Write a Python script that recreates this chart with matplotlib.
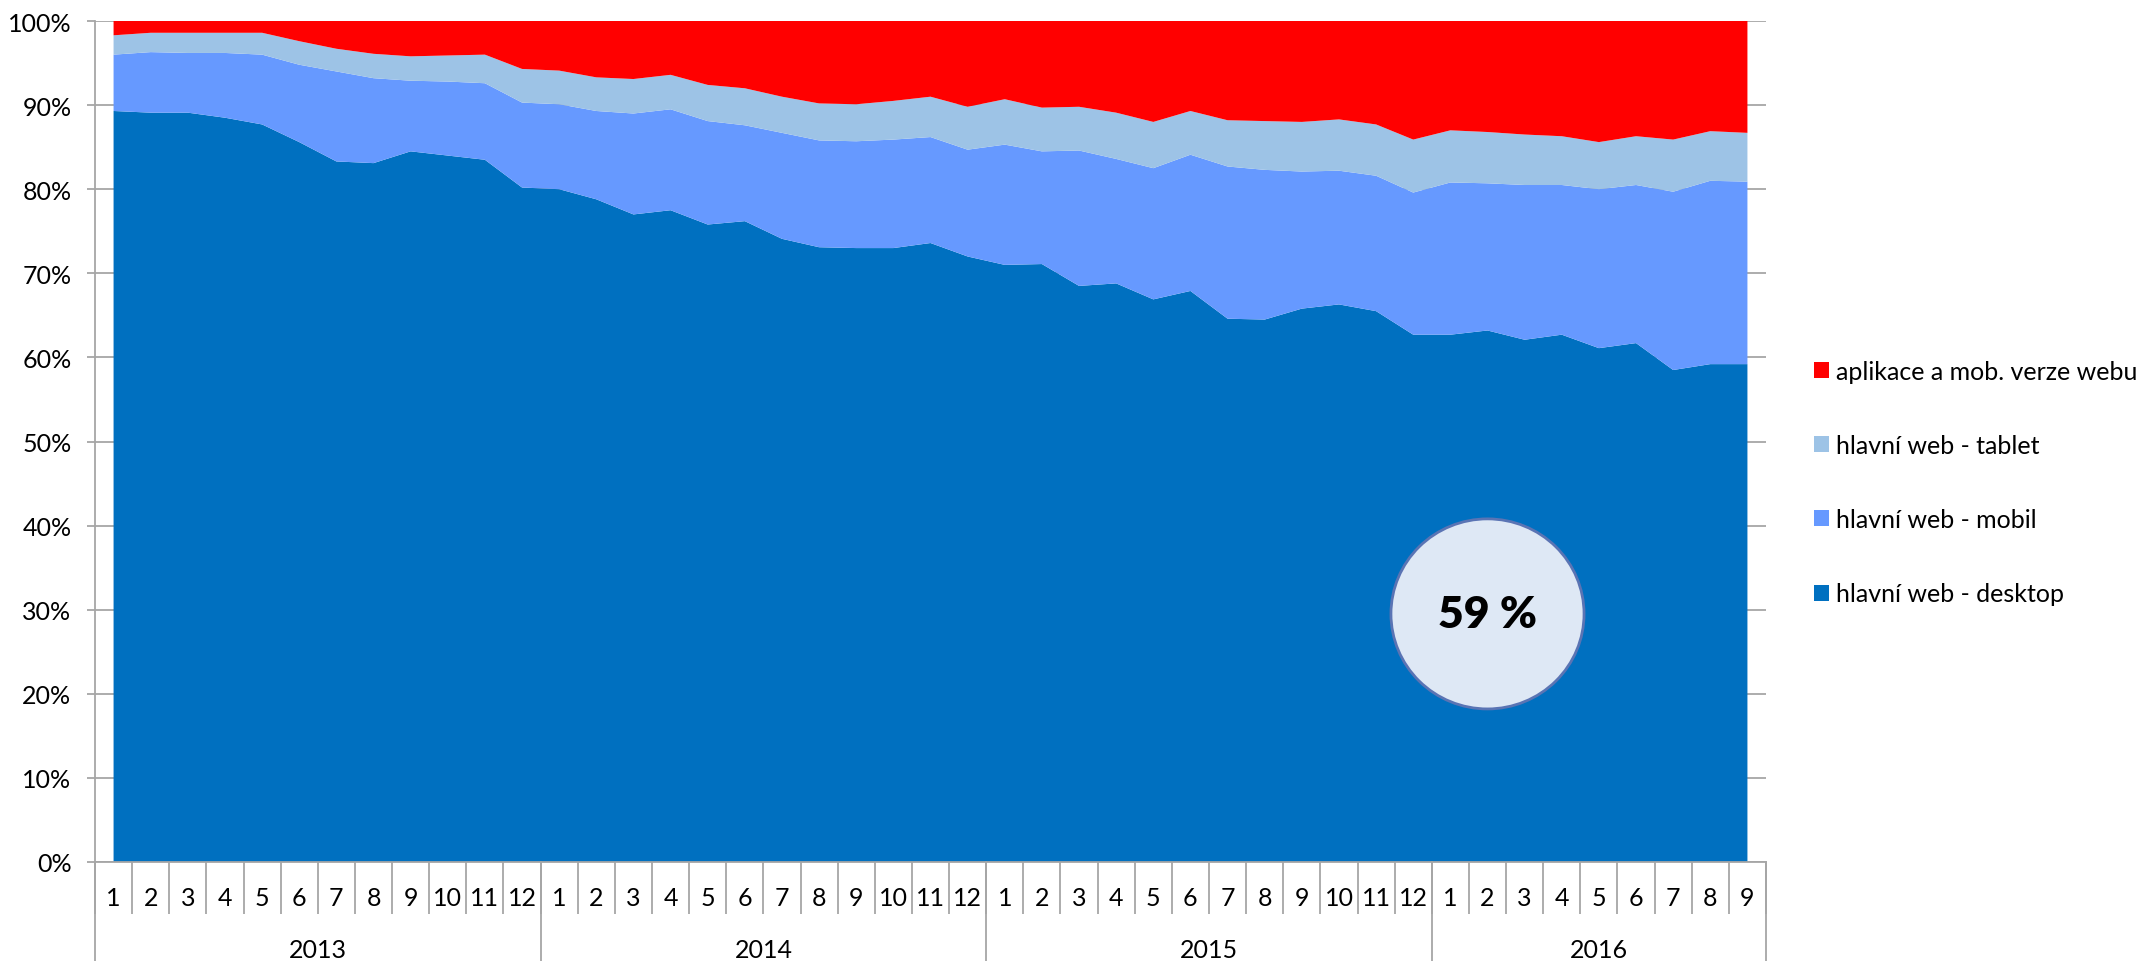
import matplotlib
matplotlib.use("Agg")
import matplotlib.pyplot as plt
from matplotlib.patches import Patch, Ellipse
from matplotlib.ticker import FixedLocator, FuncFormatter
import matplotlib.transforms as mtransforms

plt.rcParams['font.family'] = ['Lato', 'DejaVu Sans']

# ---- data (shares in %) ----
years = ['2013', '2014', '2015', '2016']
months_per_year = [12, 12, 12, 9]
month_labels = [str(m) for n in months_per_year for m in range(1, n + 1)]

desktop = [89.3, 89.1, 89.1, 88.5, 87.7, 85.6, 83.3, 83.1, 84.5, 84.0, 83.5, 80.2,
           80.0, 78.8, 77.0, 77.5, 75.8, 76.2, 74.1, 73.1, 73.0, 73.0, 73.6, 72.0,
           71.0, 71.1, 68.5, 68.8, 66.9, 67.9, 64.6, 64.5, 65.8, 66.3, 65.5, 62.7,
           62.7, 63.2, 62.1, 62.7, 61.1, 61.7, 58.5, 59.2, 59.2]
mobil = [6.7, 7.2, 7.1, 7.7, 8.3, 9.2, 10.7, 10.1, 8.4, 8.8, 9.1, 10.1,
         10.1, 10.5, 12.0, 12.0, 12.3, 11.4, 12.6, 12.7, 12.7, 12.9, 12.6, 12.7,
         14.3, 13.4, 16.1, 14.8, 15.6, 16.2, 18.1, 17.8, 16.3, 15.9, 16.1, 16.9,
         18.1, 17.5, 18.4, 17.8, 18.9, 18.8, 21.2, 21.8, 21.7]
tablet = [2.3, 2.3, 2.4, 2.4, 2.6, 2.8, 2.7, 2.9, 2.9, 3.1, 3.4, 4.0,
          4.0, 4.0, 4.1, 4.1, 4.3, 4.4, 4.3, 4.4, 4.4, 4.6, 4.8, 5.1,
          5.4, 5.2, 5.2, 5.5, 5.5, 5.2, 5.5, 5.8, 5.9, 6.1, 6.1, 6.3,
          6.2, 6.1, 6.0, 5.8, 5.6, 5.8, 6.2, 5.9, 5.8]
aplikace = [1.7, 1.4, 1.4, 1.4, 1.4, 2.4, 3.3, 3.9, 4.2, 4.1, 4.0, 5.7,
            5.9, 6.7, 6.9, 6.4, 7.6, 8.0, 9.0, 9.8, 9.9, 9.5, 9.0, 10.2,
            9.3, 10.3, 10.2, 10.9, 12.0, 10.7, 11.8, 11.9, 12.0, 11.7, 12.3, 14.1,
            13.0, 13.2, 13.5, 13.7, 14.4, 13.7, 14.1, 13.1, 13.3]

series_names = ['hlavní web - desktop', 'hlavní web - mobil',
                'hlavní web - tablet', 'aplikace a mob. verze webu']
colors = ['#0070C0', '#6699FF', '#9DC3E6', '#FF0000']

highlight_text = '59 %'
highlight_index = 37
highlight_value = 29.5

# ---- figure ----
W, H = 2138, 962
fig = plt.figure(figsize=(W / 100, H / 100), dpi=100)
ax = fig.add_axes([95 / W, (H - 863) / H, (1766 - 95) / W, (863 - 22) / H])

x = list(range(len(desktop)))
ax.stackplot(x, desktop, mobil, tablet, aplikace, colors=colors,
             linewidth=0, antialiased=True, zorder=2)

grid_col = '#A6A6A6'
ax.set_xlim(-0.5, len(x) - 0.5)
ax.set_ylim(0, 100)
ax.set_yticks(range(0, 101, 10))
ax.yaxis.set_major_formatter(FuncFormatter(lambda v, p: f'{int(v)}%'))
ax.grid(axis='y', color=grid_col, linewidth=1.3, zorder=0)
ax.set_axisbelow(True)
ax.tick_params(axis='y', length=6, width=1.3, color=grid_col, pad=11,
               labelsize=18, labelcolor='#000000')

# x axis: month labels + separators
ax.set_xticks(x)
ax.set_xticklabels(month_labels)
ax.tick_params(axis='x', which='major', length=0, pad=17.5, labelsize=18)
bounds = [i - 0.5 for i in range(len(x) + 1)]
ax.xaxis.set_minor_locator(FixedLocator(bounds))
ax.tick_params(axis='x', which='minor', length=37.5, width=1.3, color=grid_col)

for side in ['top', 'right']:
    ax.spines[side].set_visible(False)
for side in ['left', 'bottom']:
    ax.spines[side].set_color(grid_col)
    ax.spines[side].set_linewidth(1.3)

# year group labels and separators
trans = mtransforms.blended_transform_factory(ax.transData, ax.transAxes)
start = -0.5
ax.plot([start, start], [0, -0.2], transform=trans, color=grid_col,
        lw=1.3, clip_on=False)
for yr, n in zip(years, months_per_year):
    end = start + n
    ax.plot([end, end], [0, -0.2], transform=trans, color=grid_col,
            lw=1.3, clip_on=False)
    ax.text((start + end) / 2, -0.1045, yr, transform=trans, ha='center',
            va='center', fontsize=18)
    start = end

# highlight circle
ell = Ellipse((highlight_index, highlight_value), width=5.2, height=22.6,
              facecolor='#DEE8F5', edgecolor='#5A74B4', linewidth=2, zorder=5)
ax.add_patch(ell)
ax.text(highlight_index, highlight_value, highlight_text, ha='center',
        va='center', fontsize=32, fontweight='heavy', color='black', zorder=6)

# legend
handles = [Patch(facecolor=c, edgecolor='none') for c in colors[::-1]]
fig.legend(handles, series_names[::-1], loc='center left',
           bbox_to_anchor=(1814 / W, 1 - 483.5 / H), frameon=False,
           fontsize=18, handlelength=0.6, handleheight=0.6,
           handletextpad=0.3, labelspacing=2.05, borderpad=0,
           borderaxespad=0)

fig.savefig('out.png', dpi=100)
